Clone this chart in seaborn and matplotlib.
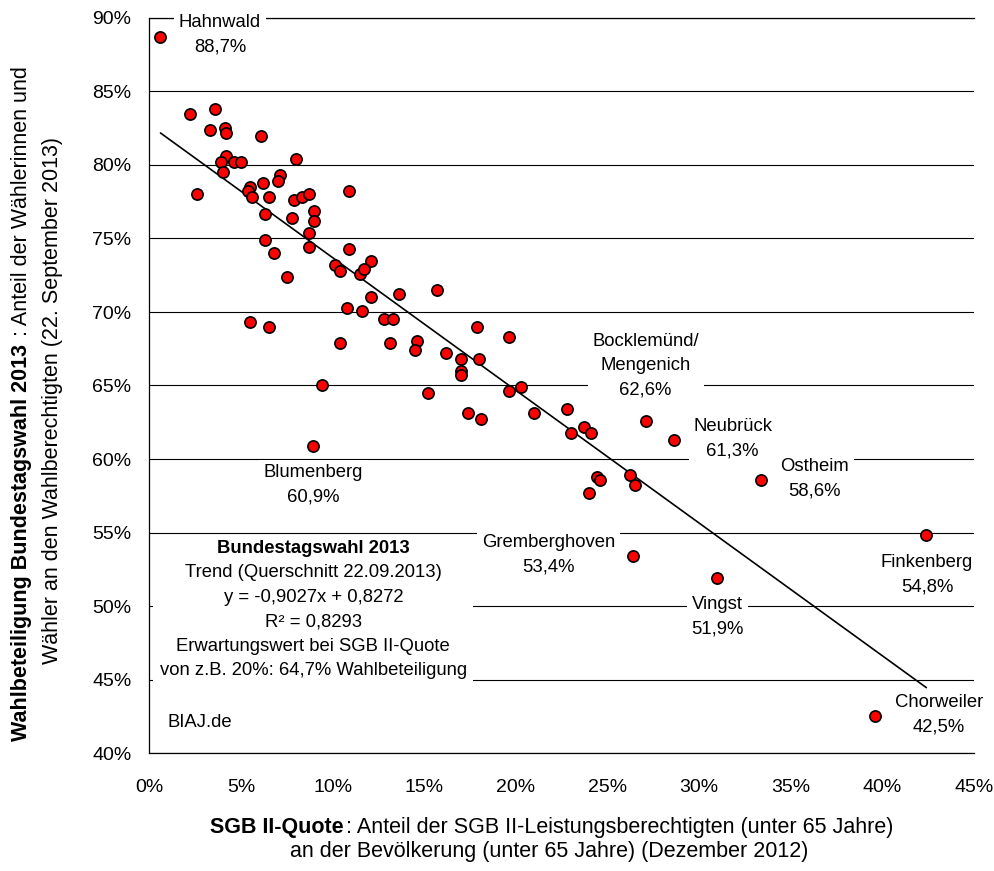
import numpy as np
import pandas as pd
import matplotlib
matplotlib.use('Agg')
import matplotlib.pyplot as plt
from matplotlib.ticker import PercentFormatter, MultipleLocator
import seaborn as sns

# SGB II-Quote (%) und Wahlbeteiligung (%) der Kölner Stadtteile
sgb2_quote = [2.2, 3.6, 3.3, 4.1, 4.2, 6.1, 4.2, 3.9, 4.6, 5.0, 8.0, 4.0, 7.1, 7.0, 6.2,
              5.5, 5.4, 5.6, 2.6, 6.5, 7.9, 8.3, 8.7, 10.9, 9.0, 6.3, 7.8, 9.0, 8.7, 6.3,
              8.7, 10.9, 6.8, 12.1, 7.5, 10.1, 10.4, 11.5, 11.7, 15.7, 13.6, 12.1, 10.8, 11.6, 12.8,
              13.3, 5.5, 6.5, 17.9, 14.6, 10.4, 13.1, 14.5, 16.2, 17.0, 18.0, 17.0, 17.0, 9.4, 15.2,
              17.4, 18.1, 19.6, 19.6, 20.3, 21.0, 22.8, 23.7, 23.0, 24.1, 24.4, 24.6, 26.2, 26.5, 24.0]
wahlbeteiligung = [83.5, 83.8, 82.4, 82.5, 82.2, 82.0, 80.6, 80.2, 80.2, 80.2, 80.4, 79.5, 79.3, 78.9, 78.8,
                   78.5, 78.2, 77.8, 78.0, 77.8, 77.6, 77.8, 78.0, 78.2, 76.9, 76.7, 76.4, 76.2, 75.4, 74.9,
                   74.4, 74.3, 74.0, 73.5, 72.4, 73.2, 72.8, 72.6, 72.9, 71.5, 71.2, 71.0, 70.3, 70.1, 69.5,
                   69.5, 69.3, 69.0, 69.0, 68.0, 67.9, 67.9, 67.4, 67.2, 66.8, 66.8, 66.0, 65.7, 65.0, 64.5,
                   63.1, 62.7, 68.3, 64.6, 64.9, 63.1, 63.4, 62.2, 61.8, 61.8, 58.8, 58.6, 58.9, 58.2, 57.7]

# beschriftete Stadtteile
namen = ['Hahnwald', 'Blumenberg', 'Bocklemünd/\nMengenich', 'Neubrück', 'Ostheim',
         'Finkenberg', 'Vingst', 'Gremberghoven', 'Chorweiler']
sgb2_hl = [0.6, 8.9, 27.1, 28.6, 33.4, 42.4, 31.0, 26.4, 39.6]
wahl_hl = [88.7, 60.9, 62.6, 61.3, 58.6, 54.8, 51.9, 53.4, 42.5]

# Trend (Querschnitt 22.09.2013)
steigung, achse = -0.9027, 0.8272
r_quadrat = 0.8293

# Lage der Beschriftungen (Mitte des Textblocks, Datenkoordinaten)
label_pos = [(3.85, 88.84), (8.94, 58.23), (27.08, 66.33), (31.83, 61.36), (36.31, 58.64),
             (42.43, 52.1), (31.0, 49.25), (21.78, 53.47), (43.09, 42.6)]

df = pd.DataFrame({'sgb2': sgb2_quote + sgb2_hl, 'wahl': wahlbeteiligung + wahl_hl})
x_trend = np.array([df['sgb2'].min(), df['sgb2'].max()])
trend = pd.DataFrame({'sgb2': x_trend, 'wahl': (achse + steigung * x_trend / 100) * 100})

sns.set_style('white')
plt.rcParams['font.family'] = ['Liberation Sans', 'DejaVu Sans']
plt.rcParams['text.color'] = 'black'
plt.rcParams['xtick.color'] = 'black'
plt.rcParams['ytick.color'] = 'black'
plt.rcParams['axes.labelcolor'] = 'black'

W, H = 995, 871
fig = plt.figure(figsize=(W / 100, H / 100), dpi=100)
ax = fig.add_axes([149.5 / W, (H - 753) / H, (974 - 149.5) / W, (753 - 18) / H])

ax.set_axisbelow(True)
ax.yaxis.grid(True, color='black', linewidth=0.8)
ax.xaxis.grid(False)

sns.lineplot(data=trend, x='sgb2', y='wahl', color='black', linewidth=1.2, ax=ax, zorder=2)
sns.scatterplot(data=df, x='sgb2', y='wahl', color='red', edgecolor='black', linewidth=1.2,
                s=65, ax=ax, zorder=4)

ax.set_xlim(0, 45)
ax.set_ylim(40, 90)
ax.xaxis.set_major_locator(MultipleLocator(5))
ax.yaxis.set_major_locator(MultipleLocator(5))
ax.xaxis.set_major_formatter(PercentFormatter(100, decimals=0))
ax.yaxis.set_major_formatter(PercentFormatter(100, decimals=0))
ax.tick_params(axis='x', direction='in', length=5, width=1, color='black', labelsize=14, pad=19)
ax.tick_params(axis='y', length=0, labelsize=14, pad=13)
ax.set_xlabel('')
ax.set_ylabel('')
for s in ['left', 'bottom', 'top']:
    ax.spines[s].set_color('black')
    ax.spines[s].set_linewidth(0.9)
ax.spines['right'].set_visible(False)

ls = 1.58
box = dict(boxstyle='square,pad=0.25', facecolor='white', edgecolor='none')
for name, y, (lx, ly) in zip(namen, wahl_hl, label_pos):
    txt = f'{name}\n{y:.1f}%'.replace('.', ',')
    ax.text(lx, ly, txt, ha='center', va='center', fontsize=13.3, linespacing=ls,
            bbox=box, zorder=3)

# Infobox
info = ['Trend (Querschnitt 22.09.2013)',
        f'y = {steigung:.4f}x + {achse:.4f}'.replace('.', ','),
        f'R² = {r_quadrat:.4f}'.replace('.', ','),
        'Erwartungswert bei SGB II-Quote',
        'von z.B. 20%: 64,7% Wahlbeteiligung']
ax.text(8.94, 48.93, '\n'.join(info), ha='center', va='center', fontsize=13.3, linespacing=ls,
        bbox=dict(boxstyle='square,pad=0.35', facecolor='white', edgecolor='none'), zorder=3)
ax.text(8.94, 53.88, 'Bundestagswahl 2013', ha='center', va='center', fontsize=13.3,
        fontweight='bold', zorder=3)
ax.text(0.96, 42.1, 'BIAJ.de', ha='left', va='center', fontsize=13.3, zorder=3)


def zeile(teile, mitte, basis, rot, fs, luecke):
    arts = [fig.text(0, 0, s, fontsize=fs, fontweight=w, rotation=rot,
                     rotation_mode='anchor', ha='left', va='baseline') for s, w in teile]
    fig.canvas.draw()
    r = fig.canvas.get_renderer()
    laengen = [t.get_window_extent(r).width if rot == 0 else t.get_window_extent(r).height
               for t in arts]
    pos = mitte - (sum(laengen) + luecke * (len(arts) - 1)) / 2
    for t, l in zip(arts, laengen):
        if rot == 0:
            t.set_position((pos / W, basis / H))
        else:
            t.set_position((basis / W, pos / H))
        pos += l + luecke


fs_lab = 15.5
zeile([('SGB II-Quote', 'bold'), (': Anteil der SGB II-Leistungsberechtigten (unter 65 Jahre)', 'normal')],
      552, H - 833, 0, fs_lab, 2)
fig.text(549.5 / W, (H - 857) / H, 'an der Bevölkerung (unter 65 Jahre) (Dezember 2012)',
         fontsize=fs_lab, ha='center', va='baseline')
zeile([('Wahlbeteiligung Bundestagswahl 2013', 'bold'), (' : Anteil der Wählerinnen und', 'normal')],
      H - 404, 27, 90, fs_lab, 2)
zeile([('Wähler an den Wahlberechtigten (22. September 2013)', 'normal')],
      H - 400, 58, 90, fs_lab, 0)

fig.savefig('out.png', dpi=100)
